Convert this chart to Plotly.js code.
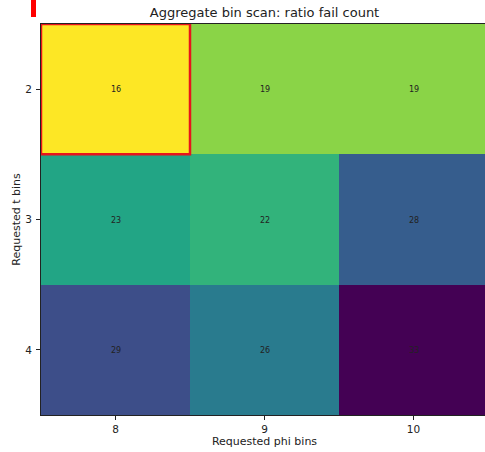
<!DOCTYPE html>
<html>
<head>
<meta charset="utf-8">
<script src="https://cdn.plot.ly/plotly-3.0.1.min.js"></script>
<style>
html,body{margin:0;padding:0;overflow:hidden;background:#fff;}
#chart{width:489px;height:452px;}
</style>
</head>
<body>
<div id="chart"></div>
<script>
const phiBins = [8, 9, 10];
const tBins = [2, 3, 4];
const failCounts = [
  [16, 19, 19],
  [23, 22, 28],
  [29, 26, 33]
];
const highlightPhi = 8;
const highlightT = 2;

const viridis = [
  [0.0, '#440154'], [0.1, '#482475'], [0.2, '#414487'], [0.3, '#355f8d'],
  [0.4, '#2a788e'], [0.5, '#21918c'], [0.6, '#22a884'], [0.7, '#44bf70'],
  [0.8, '#7ad151'], [0.9, '#bddf26'], [1.0, '#fde725']
];

const trace = {
  type: 'heatmap',
  x: phiBins,
  y: tBins,
  z: failCounts,
  colorscale: viridis,
  reversescale: true,
  zmin: 16,
  zmax: 33,
  showscale: false,
  xgap: 0, ygap: 0,
  texttemplate: '%{z}',
  textfont: {family: 'DejaVu Sans', size: 8, color: '#222'},
  hoverinfo: 'skip'
};

const layout = {
  width: 489,
  height: 452,
  margin: {l: 41, r: 1, t: 24, b: 37},
  paper_bgcolor: '#fff',
  plot_bgcolor: '#fff',
  font: {family: 'DejaVu Sans', color: '#222'},
  title: {
    text: 'Aggregate bin scan: ratio fail count',
    font: {family: 'DejaVu Sans', size: 13, color: '#222'},
    x: 0.5, xref: 'paper', xanchor: 'center',
    y: 1 - 12/452, yref: 'container', yanchor: 'middle'
  },
  xaxis: {
    range: [7.5, 10.5],
    tickvals: phiBins,
    ticktext: phiBins.map(String),
    ticks: 'outside', ticklen: 4, tickcolor: '#222', tickwidth: 1,
    tickfont: {size: 10.5, color: '#222'},
    showline: true, mirror: true, linecolor: '#222', linewidth: 1,
    showgrid: false, zeroline: false,
    title: {text: 'Requested phi bins', font: {size: 11, color: '#222'}, standoff: 3}
  },
  yaxis: {
    range: [4.5, 1.5],
    tickvals: tBins,
    ticktext: tBins.map(String),
    ticks: 'outside', ticklen: 4, tickcolor: '#222', tickwidth: 1,
    ticklabelstandoff: 2,
    tickfont: {size: 10.5, color: '#222'},
    showline: true, mirror: true, linecolor: '#222', linewidth: 1,
    showgrid: false, zeroline: false,
    title: {text: 'Requested t bins', font: {size: 11, color: '#222'}, standoff: 2}
  },
  shapes: [
    {
      type: 'rect', xref: 'x', yref: 'y',
      x0: highlightPhi - 0.5, x1: highlightPhi + 0.5,
      y0: highlightT - 0.5, y1: highlightT + 0.5,
      line: {color: '#e8141c', width: 2.5}, fillcolor: 'rgba(0,0,0,0)'
    },
    {
      type: 'rect', xref: 'paper', yref: 'paper',
      x0: -10/447, x1: -5/447, y0: 1 + 7/391, y1: 1 + 24/391,
      line: {width: 0}, fillcolor: '#ff0000'
    }
  ]
};

Plotly.newPlot('chart', [trace], layout, {displayModeBar: false, staticPlot: true});
</script>
</body>
</html>
